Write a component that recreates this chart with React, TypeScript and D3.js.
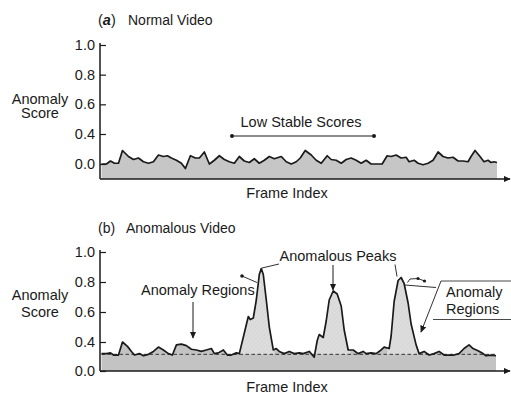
import React, { useEffect, useRef } from "react";
import * as d3 from "d3";

// panel (a) normal video: frame index / anomaly score
const framesA = [0, 5, 9, 13, 17, 21, 27, 32, 37, 42, 47, 52, 57, 62, 66, 70, 75, 80, 84, 89, 94, 98, 103, 108, 113, 118, 123, 128, 133, 138, 143, 148, 153, 158, 163, 168, 173, 180, 185, 190, 195, 199, 204, 210, 215, 220, 226, 230, 235, 240, 245, 250, 255, 260, 265, 270, 275, 281, 286, 290, 295, 300, 305, 308, 313, 317, 322, 327, 332, 337, 342, 347, 352, 357, 362, 367, 370, 374, 379, 383, 387, 390, 393, 396];
const scoresA = [0, 0, 0.04, 0.01, 0.01, 0.18, 0.1, 0.06, 0.08, 0.03, 0.01, 0.03, 0.12, 0.1, 0.11, 0.08, 0.05, 0.01, -0.06, 0.11, 0.08, 0.08, 0.16, 0, 0.05, 0.11, 0.06, 0.03, 0.01, 0.1, 0.04, 0.02, 0.07, 0.01, 0.05, 0.1, 0.07, 0.1, 0.03, 0, 0.03, 0.08, 0.18, 0.12, 0.05, 0.01, 0.11, 0.06, 0.05, 0.01, 0.06, 0.08, 0.05, 0.01, 0.05, 0, 0, 0, 0.11, 0.1, 0.12, 0.08, 0.09, 0.03, 0.05, 0.01, -0.01, 0.01, 0.05, 0.16, 0.1, 0.08, 0.09, 0.04, 0.04, 0.03, 0.1, 0.18, 0.1, 0.03, 0.05, 0.02, 0.03, 0.02];

// panel (b) anomalous video
const framesB = [0, 5, 9, 12, 17, 21, 26, 30, 33, 38, 42, 47, 52, 57, 62, 67, 71, 75, 80, 85, 90, 95, 100, 105, 110, 113, 117, 122, 126, 130, 135, 138, 143, 147, 149, 152, 155, 158, 160, 162, 165, 168, 172, 175, 178, 183, 188, 193, 198, 202, 208, 213, 216, 218, 222, 225, 228, 232, 236, 240, 243, 247, 252, 257, 262, 265, 270, 275, 280, 283, 288, 290, 293, 297, 300, 303, 307, 310, 315, 318, 323, 328, 333, 338, 343, 348, 353, 358, 363, 368, 372, 377, 382, 385, 390, 395];
const scoresB = [0.24, 0.24, 0.25, 0.22, 0.22, 0.4, 0.34, 0.27, 0.22, 0.24, 0.21, 0.23, 0.27, 0.33, 0.29, 0.24, 0.22, 0.36, 0.37, 0.35, 0.3, 0.29, 0.27, 0.29, 0.31, 0.24, 0.25, 0.29, 0.22, 0.22, 0.25, 0.24, 0.46, 0.57, 0.55, 0.56, 0.68, 0.85, 0.89, 0.85, 0.68, 0.5, 0.29, 0.31, 0.27, 0.24, 0.27, 0.24, 0.25, 0.24, 0.27, 0.19, 0.41, 0.45, 0.43, 0.54, 0.68, 0.74, 0.72, 0.64, 0.48, 0.29, 0.29, 0.24, 0.27, 0.24, 0.25, 0.24, 0.29, 0.33, 0.31, 0.44, 0.67, 0.81, 0.83, 0.79, 0.66, 0.52, 0.36, 0.24, 0.27, 0.22, 0.24, 0.27, 0.22, 0.22, 0.22, 0.24, 0.31, 0.36, 0.31, 0.28, 0.24, 0.21, 0.22, 0.21];
const baselineB = 0.23;
const peakRanges = [[137, 173], [212, 249], [286, 319]];

const yTicks = [0, 0.4, 0.6, 0.8, 1.0];

const FONT = "'Liberation Sans', Arial, Helvetica, sans-serif";
const INK = "#1a1a1a";

export default function App() {
  const ref = useRef<SVGSVGElement>(null);

  useEffect(() => {
    const svg = d3.select(ref.current);
    svg.selectAll("*").remove();

    const defs = svg.append("defs");
    defs.append("marker")
      .attr("id", "tri")
      .attr("viewBox", "0 0 10 10")
      .attr("refX", 9)
      .attr("refY", 5)
      .attr("markerUnits", "userSpaceOnUse")
      .attr("markerWidth", 7)
      .attr("markerHeight", 7)
      .attr("orient", "auto")
      .append("path")
      .attr("d", "M0,0.5L10,5L0,9.5Z")
      .attr("fill", INK);

    const hatch = defs.append("pattern")
      .attr("id", "hatch")
      .attr("patternUnits", "userSpaceOnUse")
      .attr("width", 3)
      .attr("height", 3)
      .attr("patternTransform", "rotate(45)");
    hatch.append("rect").attr("width", 3).attr("height", 3).attr("fill", "#dddddd");
    hatch.append("line").attr("x1", 0).attr("y1", 0).attr("x2", 0).attr("y2", 3)
      .attr("stroke", "#cbcbcb").attr("stroke-width", 0.8);

    const x = d3.scaleLinear().domain([0, 396]).range([101.5, 497]);

    function txt(px: number, py: number, s: string, anchor = "start", size = 14.5) {
      return svg.append("text")
        .attr("x", px).attr("y", py)
        .attr("text-anchor", anchor)
        .style("font-family", FONT)
        .style("font-size", `${size}px`)
        .attr("fill", INK)
        .text(s);
    }

    function panel(frames: number[], scores: number[], y: d3.ScaleLinear<number, number>, axisY: number, topY: number, fill: string) {
      const pts = frames.map((f, i) => [f, scores[i]] as [number, number]);
      const g = svg.append("g");

      g.append("path")
        .attr("fill", fill)
        .attr("d", d3.area<[number, number]>().x(d => x(d[0])).y0(axisY).y1(d => y(d[1]))(pts));

      const yAxis = g.append("g")
        .attr("transform", "translate(100,0)")
        .call(d3.axisLeft(y).tickValues(yTicks).tickSize(-6).tickPadding(5).tickFormat(d3.format(".1f")));
      yAxis.select(".domain").remove();
      yAxis.selectAll(".tick line").attr("stroke", INK).attr("stroke-width", 1.2);
      yAxis.selectAll(".tick text")
        .style("font-family", FONT)
        .style("font-size", "14.5px")
        .attr("fill", INK);

      g.append("line")
        .attr("x1", 100).attr("x2", 100)
        .attr("y1", topY).attr("y2", axisY)
        .attr("stroke", INK).attr("stroke-width", 1.5);
      g.append("line")
        .attr("x1", 100).attr("x2", 510)
        .attr("y1", axisY).attr("y2", axisY)
        .attr("stroke", INK).attr("stroke-width", 1.5)
        .attr("marker-end", "url(#tri)");
      return { g, pts };
    }

    // ---- (a) Normal Video
    const yA = d3.scaleLinear().domain([-0.2, 0.4, 1.0]).range([179, 134, 45]);
    const pa = panel(framesA, scoresA, yA, 179, 43, "#c6c6c6");
    pa.g.append("path")
      .attr("fill", "none")
      .attr("stroke", INK)
      .attr("stroke-width", 1.7)
      .attr("stroke-linejoin", "round")
      .attr("d", d3.line<[number, number]>().x(d => x(d[0])).y(d => yA(d[1]))(pa.pts));

    const tA = txt(98, 25, "");
    tA.append("tspan").text("(");
    tA.append("tspan").style("font-style", "italic").style("font-weight", "bold").text("a");
    tA.append("tspan").text(")");
    txt(128, 25, "Normal Video", "start", 14);
    txt(40, 103.5, "Anomaly", "middle");
    txt(40, 118, "Score", "middle");
    txt(287, 198, "Frame Index", "middle");

    txt(301, 126.5, "Low Stable Scores", "middle");
    svg.append("line").attr("x1", 232).attr("x2", 374).attr("y1", 136).attr("y2", 136)
      .attr("stroke", INK).attr("stroke-width", 1);
    [232, 374].forEach(cx => svg.append("circle").attr("cx", cx).attr("cy", 136).attr("r", 2).attr("fill", INK));

    // ---- (b) Anomalous Video
    const yB = d3.scaleLinear().domain([0, 0.4, 1.0]).range([371, 342, 252]);
    const pb = panel(framesB, scoresB, yB, 371, 250, "#c3c3c3");

    peakRanges.forEach((r, i) => {
      const cp = defs.append("clipPath").attr("id", `peak-${i}`);
      cp.append("rect").attr("x", x(r[0])).attr("width", x(r[1]) - x(r[0])).attr("y", 240).attr("height", 140);
      pb.g.append("path")
        .attr("clip-path", `url(#peak-${i})`)
        .attr("fill", "url(#hatch)")
        .attr("d", d3.area<[number, number]>()
          .x(d => x(d[0]))
          .y0(yB(baselineB))
          .y1(d => yB(Math.max(d[1], baselineB)))(pb.pts));
    });

    pb.g.append("line")
      .attr("x1", x(0)).attr("x2", x(396))
      .attr("y1", yB(baselineB)).attr("y2", yB(baselineB))
      .attr("stroke", "#333").attr("stroke-width", 1)
      .attr("stroke-dasharray", "3.5,2.5");

    pb.g.append("path")
      .attr("fill", "none")
      .attr("stroke", INK)
      .attr("stroke-width", 1.7)
      .attr("stroke-linejoin", "round")
      .attr("d", d3.line<[number, number]>().x(d => x(d[0])).y(d => yB(d[1]))(pb.pts));

    txt(98, 233, "(b)", "start", 14);
    txt(126, 233, "Anomalous Video", "start", 14);
    txt(40, 300, "Anomaly", "middle");
    txt(40, 316.5, "Score", "middle");
    txt(287, 392, "Frame Index", "middle");

    const ann = (x1: number, y1: number, x2: number, y2: number, arrow = false, w = 1) => {
      const l = svg.append("line").attr("x1", x1).attr("y1", y1).attr("x2", x2).attr("y2", y2)
        .attr("stroke", INK).attr("stroke-width", w);
      if (arrow) l.attr("marker-end", "url(#tri)");
      return l;
    };

    // left "Anomaly Regions"
    txt(141, 294.5, "Anomaly Regions");
    ann(193, 302, 193, 338, true);
    ann(242, 276, 257, 282.5, false, 0.9);
    svg.append("circle").attr("cx", 242).attr("cy", 276).attr("r", 1.8).attr("fill", INK);

    // "Anomalous Peaks" bracket
    txt(338, 261, "Anomalous Peaks", "middle");
    ann(262, 268, 279, 264, false, 0.9);
    ann(395, 264.5, 397, 276.5, false, 0.9);
    ann(333, 265, 333, 290, true);

    // squiggle near third peak
    svg.append("path")
      .attr("d", "M407.5,282.5L410,279L418,278.5L424.5,281")
      .attr("fill", "none").attr("stroke", INK).attr("stroke-width", 0.9);
    [[418, 278.5], [424.5, 281]].forEach(p => svg.append("circle").attr("cx", p[0]).attr("cy", p[1]).attr("r", 1.6).attr("fill", INK));
    ann(405, 285, 436, 287.5, false, 0.9);

    // right "Anomaly Regions" callout
    ann(441, 281, 511, 281, false, 0.8);
    ann(433, 319.5, 511, 319.5, false, 0.8);
    ann(441, 281, 421, 332, true, 0.9);
    txt(446, 296.5, "Anomaly");
    txt(446, 313.5, "Regions");
  }, []);

  return (
    <div style={{ position: "absolute", left: 0, top: 0, background: "#fff" }}>
      <svg ref={ref} width={511} height={394} style={{ display: "block" }} />
    </div>
  );
}
